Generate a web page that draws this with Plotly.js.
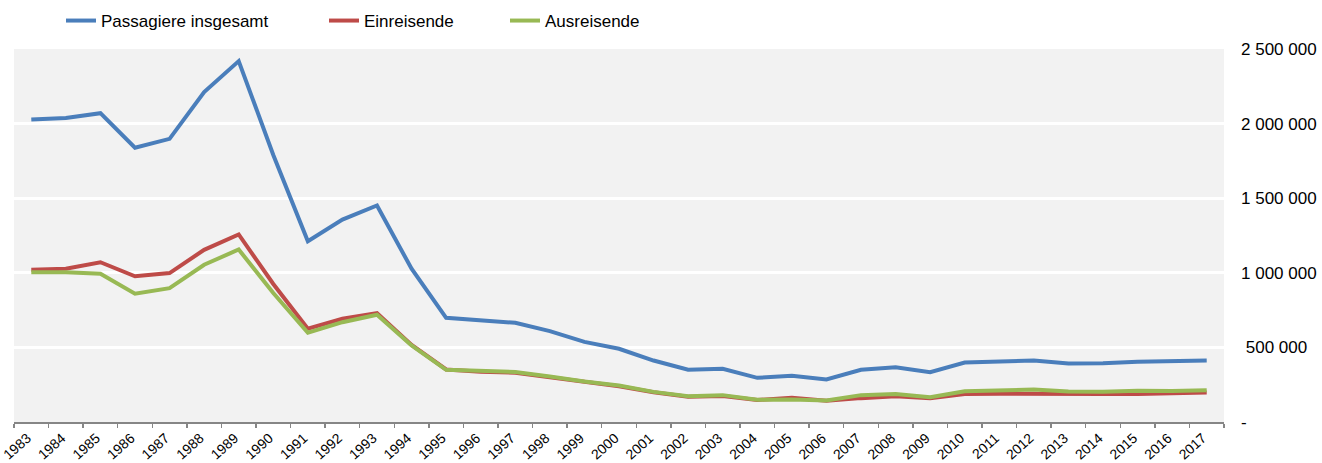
<!DOCTYPE html>
<html>
<head>
<meta charset="utf-8">
<script src="https://cdn.plot.ly/plotly-3.0.1.min.js"></script>
<style>
  html, body { margin: 0; padding: 0; background: #ffffff; }
  #chart { width: 1322px; height: 463px; }
</style>
</head>
<body>
<div id="chart"></div>
<script>
var years = ["1983","1984","1985","1986","1987","1988","1989","1990","1991","1992",
             "1993","1994","1995","1996","1997","1998","1999","2000","2001","2002",
             "2003","2004","2005","2006","2007","2008","2009","2010","2011","2012",
             "2013","2014","2015","2016","2017"];

var passagiereInsgesamt = [2028000, 2037000, 2070000, 1838000, 1898000, 2211000, 2419000, 1790000, 1212000, 1357000,
                           1451000, 1027000, 698000, 680000, 665000, 609000, 537000, 491000, 412000, 350000,
                           357000, 296000, 310000, 285000, 350000, 367000, 334000, 399000, 405000, 412000,
                           392000, 394000, 403000, 405000, 412000];

var einreisende = [1020000, 1027000, 1071000, 977000, 998000, 1154000, 1257000, 925000, 625000, 692000,
                   729000, 517000, 352000, 336000, 330000, 300000, 267000, 240000, 199000, 170000,
                   175000, 148000, 162000, 142000, 160000, 172000, 160000, 188000, 190000, 188000,
                   184000, 187000, 188000, 194000, 198000];

var ausreisende = [1004000, 1004000, 994000, 860000, 897000, 1054000, 1156000, 865000, 598000, 669000,
                   719000, 513000, 350000, 342000, 335000, 305000, 271000, 245000, 202000, 173000,
                   180000, 149000, 151000, 144000, 180000, 188000, 166000, 206000, 211000, 218000,
                   205000, 202000, 210000, 207000, 212000];

var yTickVals = [0, 500000, 1000000, 1500000, 2000000, 2500000];
var yTickText = ["-", "\u00a0500 000", "1 000 000", "1 500 000", "2 000 000", "2 500 000"];

var FONT = "Liberation Sans, Arial, sans-serif";

var traces = [
  { x: years, y: passagiereInsgesamt, name: "Passagiere insgesamt", type: "scatter", mode: "lines",
    line: { color: "#4A7EBB", width: 4 }, legend: "legend" },
  { x: years, y: einreisende, name: "Einreisende", type: "scatter", mode: "lines",
    line: { color: "#BE4B48", width: 4 }, legend: "legend2" },
  { x: years, y: ausreisende, name: "Ausreisende", type: "scatter", mode: "lines",
    line: { color: "#98B954", width: 4 }, legend: "legend3" }
];

function leg(px) {
  return { xref: "container", yref: "container", x: px / 1322, y: 1 - 21 / 463,
           xanchor: "left", yanchor: "middle", orientation: "h",
           bgcolor: "rgba(0,0,0,0)", borderwidth: 0,
           font: { family: FONT, size: 17, color: "#000000" } };
}

var layout = {
  width: 1322, height: 463,
  margin: { l: 14, r: 98, t: 49, b: 41 },
  paper_bgcolor: "#ffffff",
  plot_bgcolor: "#F2F2F2",
  font: { family: FONT, size: 17, color: "#000000" },
  showlegend: true,
  legend: leg(61),
  legend2: leg(324),
  legend3: leg(505),
  xaxis: {
    type: "category",
    range: [-0.5, 34.5],
    showgrid: false,
    zeroline: false,
    showline: true, linecolor: "#868686", linewidth: 1.5,
    ticks: "outside", tickson: "boundaries", ticklen: 4, tickcolor: "#868686", tickwidth: 1.5,
    tickangle: -42,
    ticklabelstandoff: 1,
    ticklabelshift: -4,
    tickfont: { family: FONT, size: 14, color: "#000000" },
    fixedrange: true
  },
  yaxis: {
    side: "right",
    range: [0, 2500000],
    tickvals: yTickVals,
    ticktext: yTickText,
    showgrid: true, gridcolor: "#ffffff", gridwidth: 3,
    zeroline: false,
    showline: false,
    ticks: "",
    ticklabelstandoff: 16,
    tickfont: { family: FONT, size: 17, color: "#000000" },
    fixedrange: true
  }
};

Plotly.newPlot("chart", traces, layout, { displayModeBar: false, staticPlot: true });
</script>
</body>
</html>
